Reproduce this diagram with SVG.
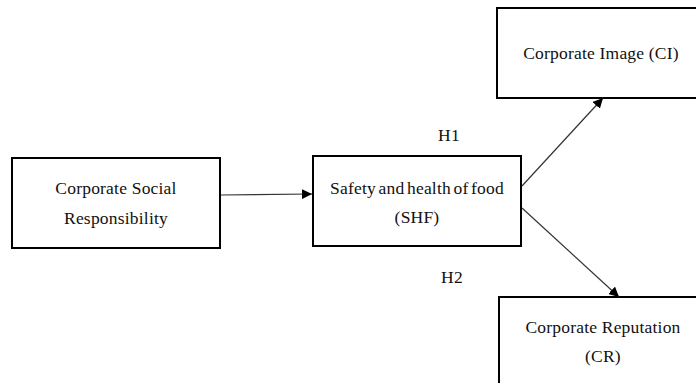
<svg xmlns="http://www.w3.org/2000/svg" width="696" height="383" viewBox="0 0 696 383">
<style>
.box{fill:#fff;stroke:#000;stroke-width:2}
.t{font-family:"Liberation Serif","Times New Roman",serif;font-size:17.5px;letter-spacing:0.2px;fill:#111;text-anchor:middle}
.c{stroke:#333;stroke-width:1.2;fill:none;marker-end:url(#ah)}
</style>
<defs>
<marker id="ah" viewBox="0 0 10 10" refX="10" refY="5" markerWidth="10" markerHeight="10" markerUnits="userSpaceOnUse" orient="auto">
<path d="M0,0 L10,5 L0,10 z" fill="#000"/>
</marker>
</defs>
<rect width="696" height="383" fill="#fff"/>
<g id="csr">
<rect class="box" x="12" y="158" width="208" height="90"/>
<text class="t" x="116" y="194">Corporate Social</text>
<text class="t" x="116" y="224">Responsibility</text>
</g>
<g id="shf">
<rect class="box" x="313" y="156" width="208" height="90"/>
<text class="t" x="417" y="194" word-spacing="-2">Safety and health of food</text>
<text class="t" x="417" y="223">(SHF)</text>
</g>
<g id="ci">
<rect class="box" x="497" y="8" width="210" height="90"/>
<text class="t" x="601" y="59">Corporate Image (CI)</text>
</g>
<g id="cr">
<rect class="box" x="499" y="297" width="210" height="100"/>
<text class="t" x="603" y="333">Corporate Reputation</text>
<text class="t" x="603" y="362">(CR)</text>
</g>
<g id="connectors">
<path class="c" d="M221,195 L312,194"/>
<path class="c" d="M522,186 L603,98"/>
<path class="c" d="M522,208 L619,297"/>
</g>
<g id="labels">
<text class="t" x="449" y="141">H1</text>
<text class="t" x="452" y="283">H2</text>
</g>
</svg>
